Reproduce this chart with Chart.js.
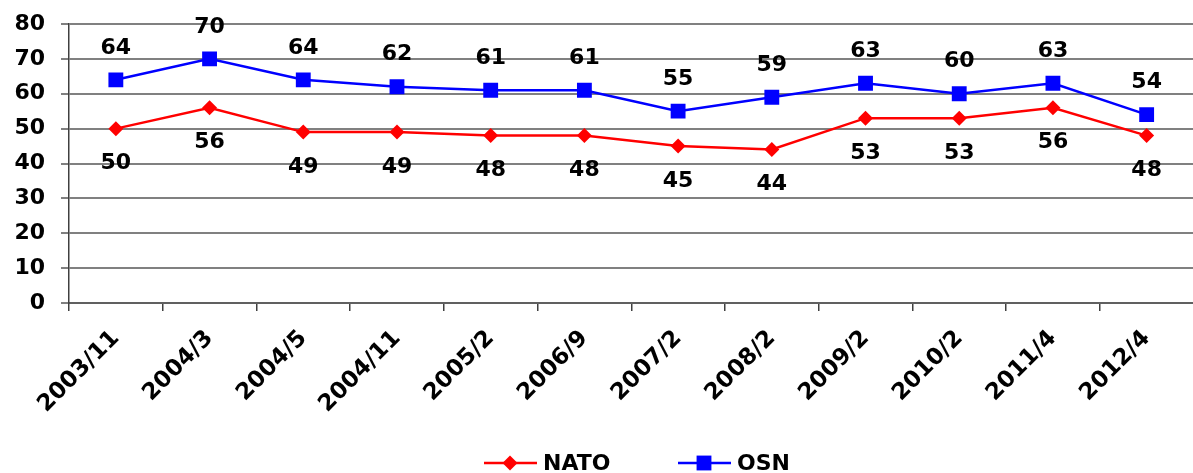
<!DOCTYPE html>
<html>
<head>
<meta charset="utf-8">
<script src="https://cdn.jsdelivr.net/npm/chart.js@4/dist/chart.umd.min.js"></script>
<style>
    html, body { margin: 0; padding: 0; background: #fff; overflow: hidden; }
    #wrap { width: 1204px; height: 473px; position: relative; }
</style>
</head>
<body>
<div id="wrap"><canvas id="chart"></canvas></div>
<script>
// Data
const periods = ['2003/11', '2004/3', '2004/5', '2004/11', '2005/2', '2006/9',
    '2007/2', '2008/2', '2009/2', '2010/2', '2011/4', '2012/4'];
const natoValues = [50, 56, 49, 49, 48, 48, 45, 44, 53, 53, 56, 48];
const osnValues = [64, 70, 64, 62, 61, 61, 55, 59, 63, 60, 63, 54];
const yTicks = [0, 10, 20, 30, 40, 50, 60, 70, 80];

const FONT = "'DejaVu Sans', Verdana, sans-serif";

/**
 * Value labels: OSN above the point, NATO below
 */
const valueLabels = {
    id: 'valueLabels',
    afterDatasetsDraw(chart) {
        const ctx = chart.ctx;
        ctx.save();
        ctx.font = 'bold 22px ' + FONT;
        ctx.fillStyle = '#000';
        ctx.textAlign = 'center';
        ctx.textBaseline = 'middle';
        chart.data.datasets.forEach((ds, i) => {
            const meta = chart.getDatasetMeta(i);
            const shift = ds.label === 'OSN' ? -32 : 35;
            meta.data.forEach((pt, j) => {
                ctx.fillText(String(ds.data[j]), pt.x, pt.y + shift);
            });
        });
        ctx.restore();
    }
};

/**
 * Legend at the bottom: line with marker, then name
 */
const bottomLegend = {
    id: 'bottomLegend',
    afterDraw(chart) {
        const ctx = chart.ctx;
        const y = 463;
        const items = [
            { label: 'NATO', color: '#ff0000', style: 'rectRot', x: 484, r: 7.5 },
            { label: 'OSN', color: '#0000ff', style: 'rect', x: 678, r: 10.5 }
        ];
        ctx.save();
        items.forEach(it => {
            ctx.strokeStyle = it.color;
            ctx.lineWidth = 2.5;
            ctx.beginPath();
            ctx.moveTo(it.x, y);
            ctx.lineTo(it.x + 53, y);
            ctx.stroke();
            ctx.fillStyle = it.color;
            Chart.helpers.drawPoint(ctx, { pointStyle: it.style, radius: it.r, borderWidth: 0 }, it.x + 26, y);
            ctx.fillStyle = '#000';
            ctx.font = 'bold 22px ' + FONT;
            ctx.textAlign = 'left';
            ctx.textBaseline = 'middle';
            ctx.fillText(it.label, it.x + 59, y + 1);
        });
        ctx.restore();
    }
};

new Chart(document.getElementById('chart'), {
    type: 'line',
    data: {
        labels: periods,
        datasets: [
            {
                label: 'NATO',
                data: natoValues,
                borderColor: '#ff0000',
                backgroundColor: '#ff0000',
                borderWidth: 2.5,
                pointStyle: 'rectRot',
                pointRadius: 7.5,
                pointHoverRadius: 7.5,
                pointBorderWidth: 0,
                tension: 0
            },
            {
                label: 'OSN',
                data: osnValues,
                borderColor: '#0000ff',
                backgroundColor: '#0000ff',
                borderWidth: 2.5,
                pointStyle: 'rect',
                pointRadius: 10.5,
                pointHoverRadius: 10.5,
                pointBorderWidth: 0,
                tension: 0
            }
        ]
    },
    options: {
        responsive: true,
        maintainAspectRatio: false,
        animation: false,
        layout: { padding: { top: 24, left: 0, right: 0, bottom: 0 } },
        plugins: {
            legend: { display: false },
            tooltip: { enabled: false }
        },
        scales: {
            x: {
                offset: true,
                afterFit: function (scale) { scale.height = 170; },
                grid: {
                    offset: true,
                    drawOnChartArea: false,
                    drawTicks: true,
                    tickLength: 8,
                    color: '#404040',
                    lineWidth: 1.5
                },
                border: { color: '#606060', width: 2 },
                ticks: {
                    minRotation: 45,
                    maxRotation: 45,
                    autoSkip: false,
                    padding: 14,
                    color: '#000',
                    font: { family: FONT, size: 23, weight: 'bold' }
                }
            },
            y: {
                min: 0,
                max: 80,
                afterFit: function (scale) {
                    scale.width = 69;
                    // keep the plot top fixed by the layout padding only
                    scale.paddingTop = 0;
                    scale.paddingBottom = 0;
                },
                afterBuildTicks: function (scale) {
                    scale.ticks = yTicks.map(v => ({ value: v }));
                },
                grid: {
                    color: '#808080',
                    lineWidth: 2,
                    drawTicks: true,
                    tickLength: 8,
                    tickColor: '#808080'
                },
                border: { color: '#404040', width: 1.5 },
                ticks: {
                    padding: 16,
                    color: '#000',
                    font: { family: FONT, size: 22, weight: 'bold' }
                }
            }
        }
    },
    plugins: [valueLabels, bottomLegend]
});
</script>
</body>
</html>
